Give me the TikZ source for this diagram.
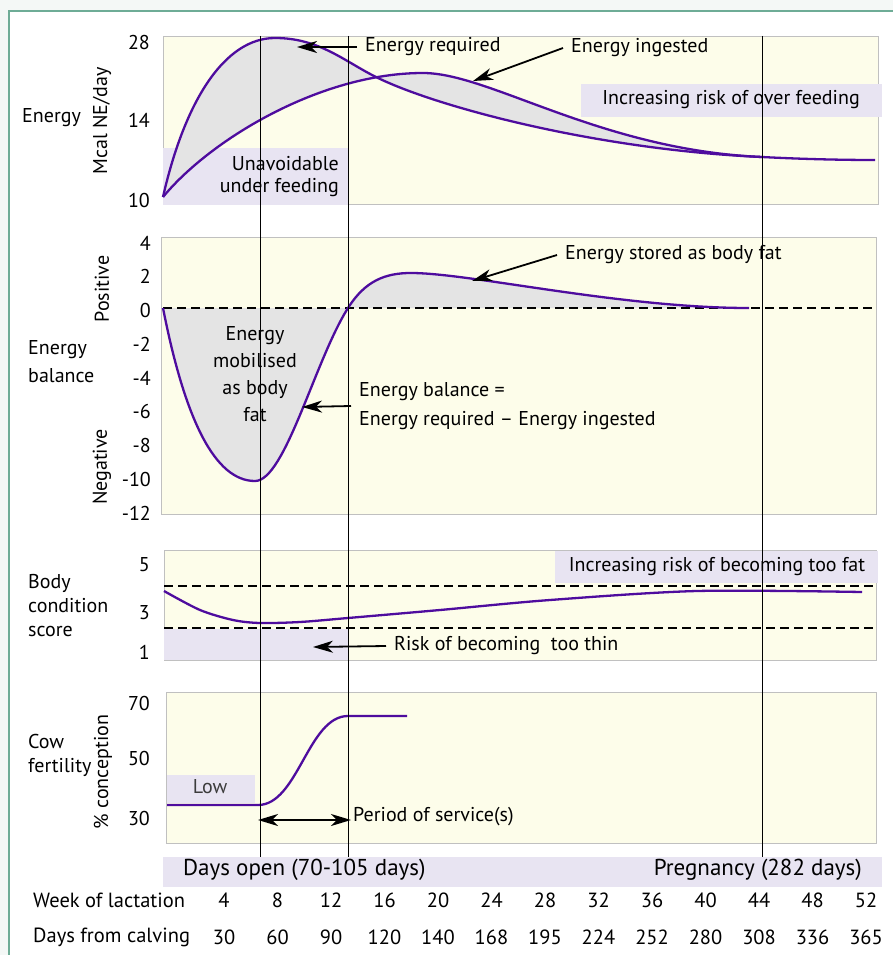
\documentclass[tikz,border=0pt]{standalone}
\usepackage{fontspec}
\setmainfont{PT Sans}
\usetikzlibrary{arrows.meta, positioning}
\definecolor{tracecol}{RGB}{78,12,158}
\definecolor{panelbg}{RGB}{253,253,234}
\definecolor{panelline}{RGB}{192,192,192}
\definecolor{riskbg}{RGB}{232,228,242}
\definecolor{shadebg}{RGB}{228,228,228}
\definecolor{framecol}{RGB}{110,172,150}
\definecolor{outsidebg}{RGB}{244,248,246}
\definecolor{lowtext}{RGB}{60,60,60}

\begin{document}
\begin{tikzpicture}[
  x=1pt, y=-1pt,
  every node/.style={font=\fontsize{20}{24}\selectfont, inner sep=2pt},
  panel/.style={fill=panelbg, draw=panelline, line width=0.8pt},
  riskbox/.style={fill=riskbg},
  trace/.style={draw=tracecol, line width=2.3pt, line join=round},
  zeroline/.style={dash pattern=on 9pt off 5pt, line width=2pt},
  dayline/.style={line width=1pt},
  lbl/.style={inner xsep=8pt},
  ticklbl/.style={anchor=east},
  sidelbl/.style={anchor=west, align=left},
  rowlbl/.style={font=\fontsize{20.5}{24}\selectfont},
  bandlbl/.style={font=\fontsize{23}{26}\selectfont},
  arr/.style={-{Stealth[length=20pt, width=12pt, inset=6pt]}, line width=1.8pt},
  darr/.style={{Stealth[length=20pt, width=12pt, inset=6pt]}-{Stealth[length=20pt, width=12pt, inset=6pt]}, line width=1.8pt}
]
\useasboundingbox (0,0) rectangle (893,955);
\fill[outsidebg] (0,0) rectangle (893,955);
\draw[framecol, line width=2.5pt, fill=white] (9,11) rectangle (905,970);

% panels
\draw[panel] (163,36) rectangle (878,204);
\draw[panel] (161,237) rectangle (876,514);
\draw[panel] (164,550) rectangle (876,660);
\draw[panel] (166,692) rectangle (876,843);

% risk bands
\fill[riskbox] (581,84) rectangle (882,117);
\fill[riskbox] (163,148) rectangle (348,205);
\fill[riskbox] (555,551) rectangle (878,583);
\fill[riskbox] (164,629) rectangle (348,660);
\fill[riskbox] (167,775) rectangle (255,803);
\fill[riskbox] (163,857) rectangle (882,887);

% energy curves
\fill[shadebg] (163,197) .. controls (185,100) and (225,38) .. (275,38)
  .. controls (320,38) and (345,62) .. (378,78)
  .. controls (440,108) and (600,150) .. (762,157)
  .. controls (600,150) and (490,73) .. (423,73)
  .. controls (320,73) and (210,140) .. (163,197) -- cycle;
\draw[trace] (163,197) .. controls (185,100) and (225,38) .. (275,38)
  .. controls (320,38) and (345,62) .. (378,78)
  .. controls (440,108) and (600,150) .. (762,157)
  .. controls (800,159) and (840,160) .. (875,160);
\draw[trace] (163,197) .. controls (210,140) and (320,73) .. (423,73)
  .. controls (490,73) and (600,150) .. (762,157);

% energy balance
\fill[shadebg] (163,308) .. controls (185,420) and (215,481) .. (255,481)
  .. controls (285,481) and (315,360) .. (348,308)
  .. controls (365,281) and (385,273) .. (411,273)
  .. controls (470,273) and (620,308) .. (749,308) -- cycle;
\draw[zeroline] (163,308) -- (876,308);
\draw[trace] (163,308) .. controls (185,420) and (215,481) .. (255,481)
  .. controls (285,481) and (315,360) .. (348,308)
  .. controls (365,281) and (385,273) .. (411,273)
  .. controls (470,273) and (620,308) .. (749,308);

% body condition
\draw[zeroline] (164,586) -- (876,586);
\draw[zeroline] (164,628) -- (876,628);
\draw[trace] plot[smooth] coordinates {(164,591) (200,610) (233,620) (260,623) (300,622) (348,618) (440,610) (550,600) (697,591) (862,592)};

% fertility
\draw[trace] (167,805) -- (258,805) .. controls (298,805) and (308,716) .. (348,716) -- (407,716);

% day markers
\draw[dayline] (260,36) -- (260,857);
\draw[dayline] (348,36) -- (348,857);
\draw[dayline] (762,36) -- (762,857);

% row labels
\node[sidelbl] (energy) at (20,118) {Energy};
\node[sidelbl, font=\fontsize{20}{28}\selectfont] (balance) at (26,362) {Energy\\balance};
\node[sidelbl, font=\fontsize{20}{24}\selectfont] (bcs) at (26,606) {Body\\condition\\score};
\node[sidelbl, font=\fontsize{20}{24}\selectfont] (fert) at (26,755) {Cow\\fertility};
\node[rotate=90] (mcal) at (102,121) {Mcal NE/day};
\node[rotate=90] (pos) at (102,289) {Positive};
\node[rotate=90] (neg) at (102,467) {Negative};
\node[rotate=90] (concep) at (103,772) {\% conception};

% axis numbers
\node[ticklbl] (e28) at (152,43) {28};
\node[ticklbl] (e14) at (152,120) {14};
\node[ticklbl] (e10) at (152,200) {10};
\foreach \v [count=\k from 0] in {4,2,0,-2,-4,-6,-8,-10,-12}
  \node[ticklbl] (b\k) at (153,243+33.75*\k) {\v};
\node[ticklbl] (s5) at (152,565) {5};
\node[ticklbl] (s3) at (152,613) {3};
\node[ticklbl] (s1) at (152,652) {1};
\node[ticklbl] (f70) at (152,703) {70};
\node[ticklbl] (f50) at (152,758) {50};
\node[ticklbl] (f30) at (152,818) {30};

% annotations
\node[lbl, anchor=west] (req) at (357,47) {Energy required};
\coordinate (reqtip) at (297,47);
\draw[arr] (req.west) -- (reqtip);
\node[lbl, anchor=west] (ing) at (563,48) {Energy ingested};
\coordinate (ingtip) at (473,81);
\draw[arr] (ing.west) -- (ingtip);
\node (overfeed) at (731,100) {Increasing risk of over feeding};
\node[anchor=east, align=right, font=\fontsize{20}{22}\selectfont] (underfeed) at (341,177) {Unavoidable\\under feeding};

\node[align=center, font=\fontsize{20}{27}\selectfont] (mobil) at (255,374) {Energy\\mobilised\\as body\\fat};
\node[lbl, anchor=west, align=left, font=\fontsize{20}{29}\selectfont] (eqn) at (351,406) {Energy balance =\\Energy required -- Energy ingested};
\coordinate (eqntip) at (302,407);
\draw[arr] (eqn.west) -- (eqntip);
\node[lbl, anchor=west] (stored) at (557,255) {Energy stored as body fat};
\coordinate (storedtip) at (472,281);
\draw[arr] (stored.west) -- (storedtip);

\node (toofat) at (717,567) {Increasing risk of becoming too fat};
\node[lbl, anchor=west] (toothin) at (386,646) {Risk of becoming\ \ too thin};
\coordinate (thintip) at (313,647);
\draw[arr] (toothin.west) -- (thintip);

\node[text=lowtext] (low) at (210,787) {Low};
\coordinate (servstart) at (258,820);
\node[anchor=west] (service) at (351,817) {Period of service(s)};
\draw[darr] (servstart) -- (service.west |- servstart);

% bottom rows
\node[bandlbl, anchor=west] (open) at (181,870) {Days open (70-105 days)};
\node[bandlbl, anchor=east] (preg) at (864,870) {Pregnancy (282 days)};
\node[rowlbl, anchor=west] (week) at (31,900) {Week of lactation};
\node[rowlbl, anchor=west] (days) at (31,937) {Days from calving};
\foreach \w [count=\k from 0] in {4,8,12,16,20,24,28,32,36,40,44,48,52}
  \node[rowlbl] (w\k) at (224+53.5*\k,900) {\w};
\foreach \d [count=\k from 0] in {30,60,90,120,140,168,195,224,252,280,308,336,365}
  \node[rowlbl] (d\k) at (224+53.5*\k,937) {\d};
\end{tikzpicture}
\end{document}
